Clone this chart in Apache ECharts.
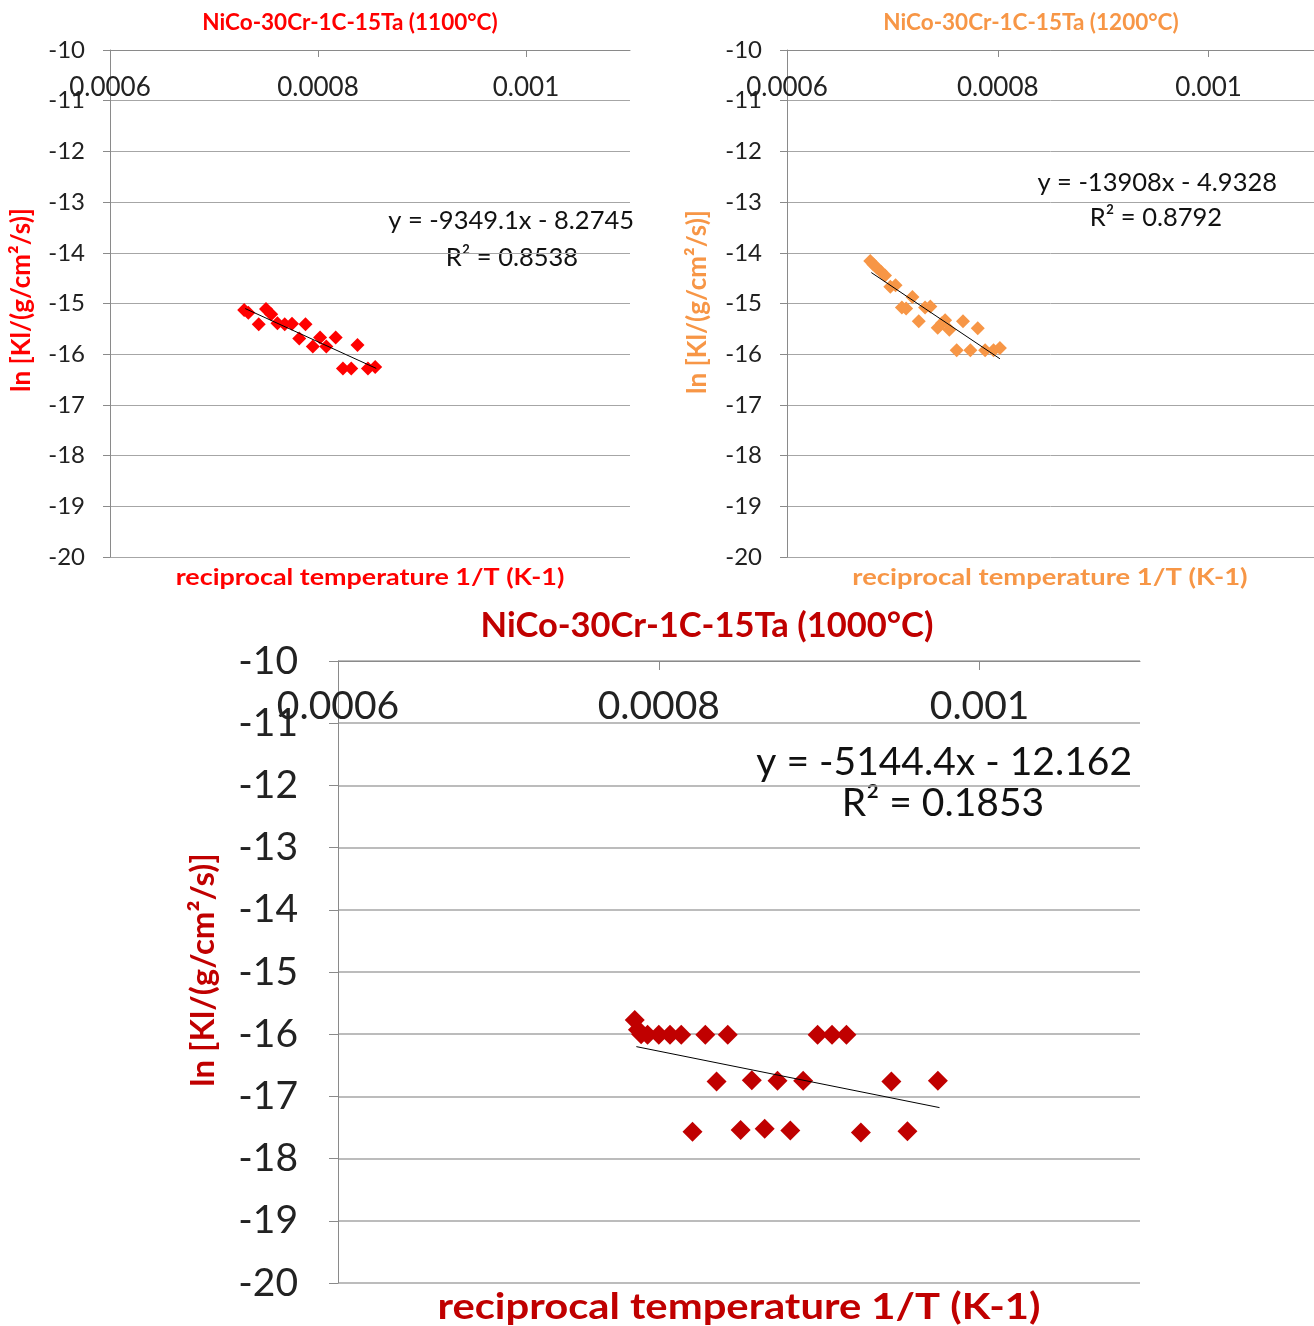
<!DOCTYPE html>
<html><head><meta charset="utf-8">
<script src="https://cdn.jsdelivr.net/npm/echarts@6/dist/echarts.min.js"></script>
<style>html,body{margin:0;padding:0;background:#fff}#c{width:1314px;height:1326px}</style>
</head><body><div id="c"></div>
<script>
// ---- data ----
// 1100 °C
const x1100 = [0.000729,0.000733,0.000743,0.000750,0.000755,0.000761,0.000768,0.000775,0.000788,0.000782,0.000795,0.000802,0.000808,0.000817,0.000838,0.000824,0.000832,0.000848,0.000855];
const y1100 = [-15.13,-15.18,-15.41,-15.11,-15.21,-15.39,-15.41,-15.40,-15.41,-15.69,-15.85,-15.67,-15.85,-15.67,-15.82,-16.28,-16.28,-16.28,-16.25];
const trendX1100 = [0.000730, 0.000856];
const trendY1100 = [-15.10, -16.28];
// 1200 °C
const x1200 = [0.000679,0.000682,0.000685,0.000689,0.000693,0.000698,0.000703,0.000719,0.000709,0.000713,0.000731,0.000736,0.000725,0.000743,0.000747,0.000750,0.000754,0.000767,0.000781,0.000761,0.000774,0.000788,0.000796,0.000802];
const y1200 = [-14.16,-14.23,-14.29,-14.37,-14.45,-14.67,-14.64,-14.87,-15.08,-15.10,-15.08,-15.06,-15.35,-15.48,-15.39,-15.33,-15.52,-15.35,-15.49,-15.92,-15.92,-15.92,-15.92,-15.88];
const trendX1200 = [0.000680, 0.000802];
const trendY1200 = [-14.39, -16.09];
// 1000 °C
const x1000 = [0.000785,0.000787,0.000789,0.000793,0.000800,0.000807,0.000814,0.000829,0.000843,0.000899,0.000908,0.000917,0.000836,0.000858,0.000874,0.000890,0.000945,0.000974,0.000821,0.000851,0.000866,0.000882,0.000926,0.000955];
const y1000 = [-15.77,-15.93,-16.00,-16.01,-16.01,-16.01,-16.01,-16.01,-16.01,-16.01,-16.01,-16.01,-16.76,-16.74,-16.75,-16.75,-16.76,-16.75,-17.57,-17.54,-17.52,-17.55,-17.58,-17.56];
const trendX1000 = [0.000786, 0.000975];
const trendY1000 = [-16.20, -17.18];

const xTicks = [0.0006, 0.0008, 0.001];
const titles = ['NiCo-30Cr-1C-15Ta (1100°C)', 'NiCo-30Cr-1C-15Ta (1200°C)', 'NiCo-30Cr-1C-15Ta (1000°C)'];
const xName = 'reciprocal temperature 1/T (K-1)';
const yName = 'ln [Kl/(g/cm²/s)]';
const eqs = ['y = -9349.1x - 8.2745', 'y = -13908x - 4.9328', 'y = -5144.4x - 12.162'];
const r2s = ['R² = 0.8538', 'R² = 0.8792', 'R² = 0.1853'];

// ---- chart ----
const FONT = 'Lato';
const colors = ['#FF0000', '#F79646', '#C00000'];
const zip = (a, b) => a.map((v, i) => [v, b[i]]);

const grids = [
  {left: 110, top: 50, width: 520, height: 507},
  {left: 787, top: 50, width: 527, height: 507},
  {left: 338, top: 661, width: 802, height: 622}
];
const big = [false, false, true];

function xAxis(i) {
  const b = big[i];
  return {
    gridIndex: i, type: 'value', position: 'top',
    min: 0.0006, max: 0.0011, interval: 0.0002,
    axisLine: {show: true, onZero: false, lineStyle: {color: '#8a8a8a', width: 1}},
    axisTick: {show: true, inside: true, length: b ? 9 : 7, lineStyle: {color: '#8a8a8a'}},
    axisLabel: {
      inside: true, margin: b ? 26 : 25, fontSize: b ? 39 : 26, fontFamily: FONT, color: '#222',
      showMaxLabel: false,
      formatter: v => xTicks.some(t => Math.abs(t - v) < 1e-9) ? String(+v.toFixed(6)) : ''
    },
    splitLine: {show: false}
  };
}
function yAxis(i) {
  const b = big[i];
  return {
    gridIndex: i, type: 'value', min: -20, max: -10, interval: 1,
    axisLine: {show: true, lineStyle: {color: '#8a8a8a', width: 1}},
    axisTick: {show: true, length: b ? 9 : 7, lineStyle: {color: '#8a8a8a'}},
    axisLabel: {margin: b ? 40 : 25, fontSize: b ? 39 : 24, fontFamily: FONT, color: '#222'},
    splitLine: {show: true, lineStyle: {color: '#a6a6a6', width: b ? 1.5 : 1}}
  };
}

const scatters = [zip(x1100, y1100), zip(x1200, y1200), zip(x1000, y1000)];
const trends = [zip(trendX1100, trendY1100), zip(trendX1200, trendY1200), zip(trendX1000, trendY1000)];

const series = [];
for (let i = 0; i < 3; i++) {
  series.push({
    type: 'scatter', xAxisIndex: i, yAxisIndex: i, data: scatters[i],
    symbol: 'diamond', symbolSize: big[i] ? 20 : 14,
    itemStyle: {color: colors[i], opacity: 1}, z: 2
  });
  series.push({
    type: 'line', xAxisIndex: i, yAxisIndex: i, data: trends[i],
    symbol: 'none', lineStyle: {color: '#000', width: 1}, z: 3, silent: true
  });
}

const titlePos = [
  {x: 345, y: 6, s: 22.5},
  {x: 1026, y: 6, s: 22.5},
  {x: 702, y: 603, s: 34.5}
];
const title = titles.map((t, i) => ({
  text: t, left: titlePos[i].x, top: titlePos[i].y, textAlign: 'center',
  textStyle: {color: colors[i], fontFamily: FONT, fontWeight: 'bold', fontSize: titlePos[i].s}
}));

const graphic = [];
const xNamePos = [{x: 370, y: 578, s: 23, k: 1.17}, {x: 1050, y: 578, s: 23, k: 1.19}, {x: 739, y: 1307, s: 36, k: 1.16}];
const yNamePos = [{x: 22, y: 300, s: 26}, {x: 698, y: 302, s: 26}, {x: 203, y: 970, s: 33}];
const eqPos = [
  {ex: 634, ey: 221, rx: 512, ry: 258, s: 25.5},
  {ex: 1277, ey: 183, rx: 1156, ry: 218, s: 25.5},
  {ex: 1132, ey: 762, rx: 943, ry: 803, s: 39}
];
for (let i = 0; i < 3; i++) {
  graphic.push({type: 'text', x: xNamePos[i].x, y: xNamePos[i].y, scaleX: xNamePos[i].k,
    style: {text: xName, fill: colors[i], font: `bold ${xNamePos[i].s}px ${FONT}`, textAlign: 'center', textVerticalAlign: 'middle'}});
  graphic.push({type: 'text', x: yNamePos[i].x, y: yNamePos[i].y, rotation: Math.PI / 2,
    style: {text: yName, fill: colors[i], font: `bold ${yNamePos[i].s}px ${FONT}`, textAlign: 'center', textVerticalAlign: 'middle'}});
  graphic.push({type: 'text', x: eqPos[i].ex, y: eqPos[i].ey,
    style: {text: eqs[i], fill: '#111', font: `${eqPos[i].s}px ${FONT}`, textAlign: 'right', textVerticalAlign: 'middle'}});
  graphic.push({type: 'text', x: eqPos[i].rx, y: eqPos[i].ry,
    style: {text: r2s[i], fill: '#111', font: `${eqPos[i].s}px ${FONT}`, textAlign: 'center', textVerticalAlign: 'middle'}});
}

const chart = echarts.init(document.getElementById('c'), null, {renderer: 'canvas'});
chart.setOption({
  animation: false,
  backgroundColor: '#fff',
  title,
  grid: grids,
  xAxis: [0, 1, 2].map(xAxis),
  yAxis: [0, 1, 2].map(yAxis),
  series,
  graphic
});
</script>
</body></html>
